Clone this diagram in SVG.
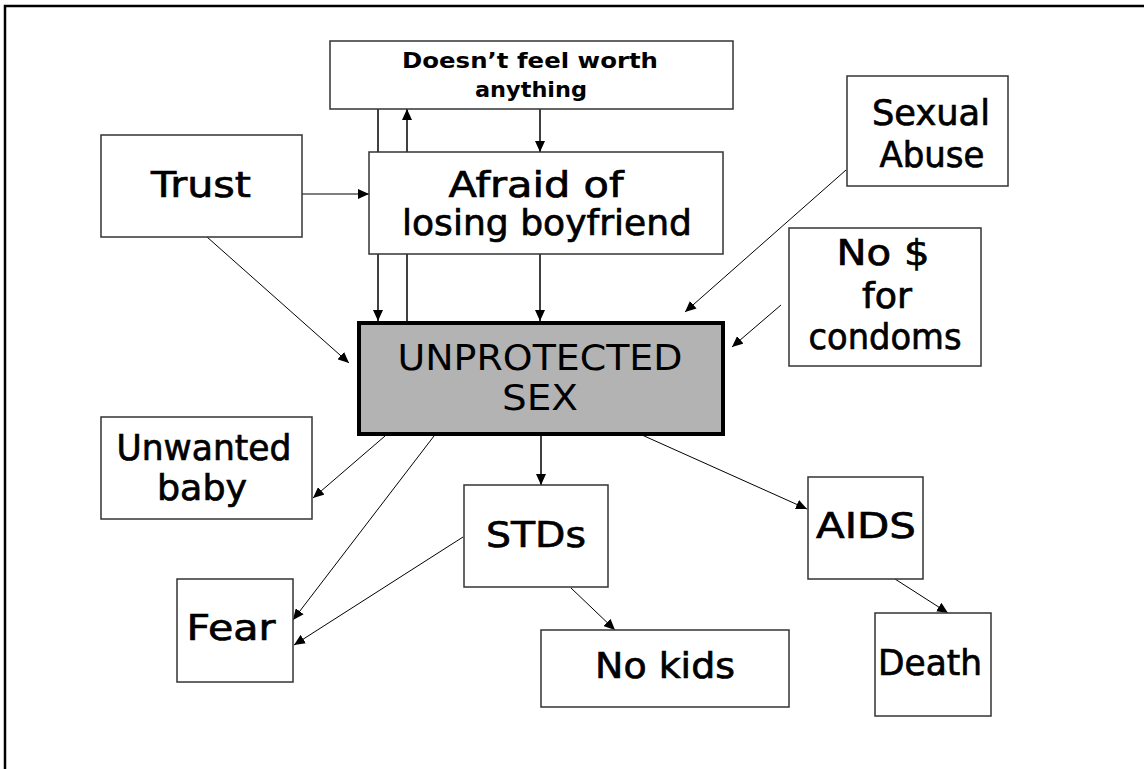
<svg xmlns="http://www.w3.org/2000/svg" width="1144" height="769" viewBox="0 0 1144 769">
<style>
.box{fill:#fff;stroke:#333;stroke-width:1.5}
.main{fill:#b3b3b3;stroke:#000;stroke-width:4}
.t{font-family:"DejaVu Sans",sans-serif;font-size:36px;fill:#000;stroke:#000;stroke-width:0.7;text-anchor:middle}
.m{font-family:"DejaVu Sans",sans-serif;font-size:36px;fill:#000;text-anchor:middle}
.b{font-family:"DejaVu Sans",sans-serif;font-size:22px;font-weight:bold;fill:#000;text-anchor:middle}
.c line{stroke:#000;stroke-width:1;marker-end:url(#ah)}
.c line.v{stroke-width:1.5}
</style>
<defs>
<marker id="ah" markerUnits="userSpaceOnUse" markerWidth="12" markerHeight="10" refX="11" refY="5" orient="auto">
<path d="M0,0 L11,5 L0,10 Z" fill="#000"/>
</marker>
</defs>
<rect width="1144" height="769" fill="#fff"/>
<path d="M5,769 V6 H1144" fill="none" stroke="#000" stroke-width="2.5"/>
<g class="c" id="connectors">
<line class="v" x1="378" y1="109" x2="378" y2="321"/>
<line class="v" x1="407" y1="321" x2="407" y2="109"/>
<line class="v" x1="540" y1="109" x2="540" y2="152"/>
<line class="v" x1="540" y1="254" x2="540" y2="321"/>
<line x1="302" y1="194" x2="369" y2="194"/>
<line x1="207" y1="237" x2="349" y2="363"/>
<line x1="846" y1="170" x2="685" y2="312"/>
<line x1="781" y1="305" x2="732" y2="347"/>
<line x1="385" y1="436" x2="313" y2="498"/>
<line x1="434" y1="436" x2="293" y2="620"/>
<line class="v" x1="541" y1="436" x2="541" y2="485"/>
<line x1="642" y1="435" x2="807" y2="509"/>
<line x1="463" y1="537" x2="294" y2="645"/>
<line x1="571" y1="588" x2="615" y2="630"/>
<line x1="895" y1="579" x2="948" y2="613"/>
</g>
<g id="worth">
<rect class="box" x="330" y="41" width="403" height="68"/>
<text class="b" x="530" y="68" textLength="256" lengthAdjust="spacingAndGlyphs">Doesn’t feel worth</text>
<text class="b" x="531" y="97" textLength="112" lengthAdjust="spacingAndGlyphs">anything</text>
</g>
<g id="afraid">
<rect class="box" x="369" y="152" width="354" height="102"/>
<text class="t" x="536" y="197" textLength="175" lengthAdjust="spacingAndGlyphs">Afraid of</text>
<text class="t" x="547" y="235" textLength="290" lengthAdjust="spacingAndGlyphs">losing boyfriend</text>
</g>
<g id="trust">
<rect class="box" x="101" y="135" width="201" height="102"/>
<text class="t" x="201" y="197" textLength="100" lengthAdjust="spacingAndGlyphs">Trust</text>
</g>
<g id="abuse">
<rect class="box" x="847" y="76" width="161" height="110"/>
<text class="t" x="931" y="125" textLength="118" lengthAdjust="spacingAndGlyphs">Sexual</text>
<text class="t" x="932" y="167" textLength="105" lengthAdjust="spacingAndGlyphs">Abuse</text>
</g>
<g id="nomoney">
<rect class="box" x="789" y="228" width="192" height="138"/>
<text class="t" x="883" y="265" textLength="93" lengthAdjust="spacingAndGlyphs">No $</text>
<text class="t" x="887" y="308" textLength="50" lengthAdjust="spacingAndGlyphs">for</text>
<text class="t" x="885" y="349" textLength="153" lengthAdjust="spacingAndGlyphs">condoms</text>
</g>
<g id="unprotected">
<rect class="main" x="359" y="323" width="364" height="111"/>
<text class="m" x="540" y="370" textLength="285" lengthAdjust="spacingAndGlyphs">UNPROTECTED</text>
<text class="m" x="540" y="410" textLength="76" lengthAdjust="spacingAndGlyphs">SEX</text>
</g>
<g id="unwanted">
<rect class="box" x="101" y="417" width="211" height="102"/>
<text class="t" x="204" y="460" textLength="175" lengthAdjust="spacingAndGlyphs">Unwanted</text>
<text class="t" x="202" y="500" textLength="90" lengthAdjust="spacingAndGlyphs">baby</text>
</g>
<g id="fear">
<rect class="box" x="177" y="579" width="116" height="103"/>
<text class="t" x="231" y="640" textLength="89" lengthAdjust="spacingAndGlyphs">Fear</text>
</g>
<g id="stds">
<rect class="box" x="464" y="485" width="144" height="102"/>
<text class="t" x="536" y="547" textLength="100" lengthAdjust="spacingAndGlyphs">STDs</text>
</g>
<g id="nokids">
<rect class="box" x="541" y="630" width="248" height="77"/>
<text class="t" x="665" y="678" textLength="140" lengthAdjust="spacingAndGlyphs">No kids</text>
</g>
<g id="aids">
<rect class="box" x="808" y="477" width="115" height="102"/>
<text class="t" x="866" y="538" textLength="100" lengthAdjust="spacingAndGlyphs">AIDS</text>
</g>
<g id="death">
<rect class="box" x="875" y="613" width="116" height="103"/>
<text class="t" x="930" y="675" textLength="104" lengthAdjust="spacingAndGlyphs">Death</text>
</g>
</svg>
